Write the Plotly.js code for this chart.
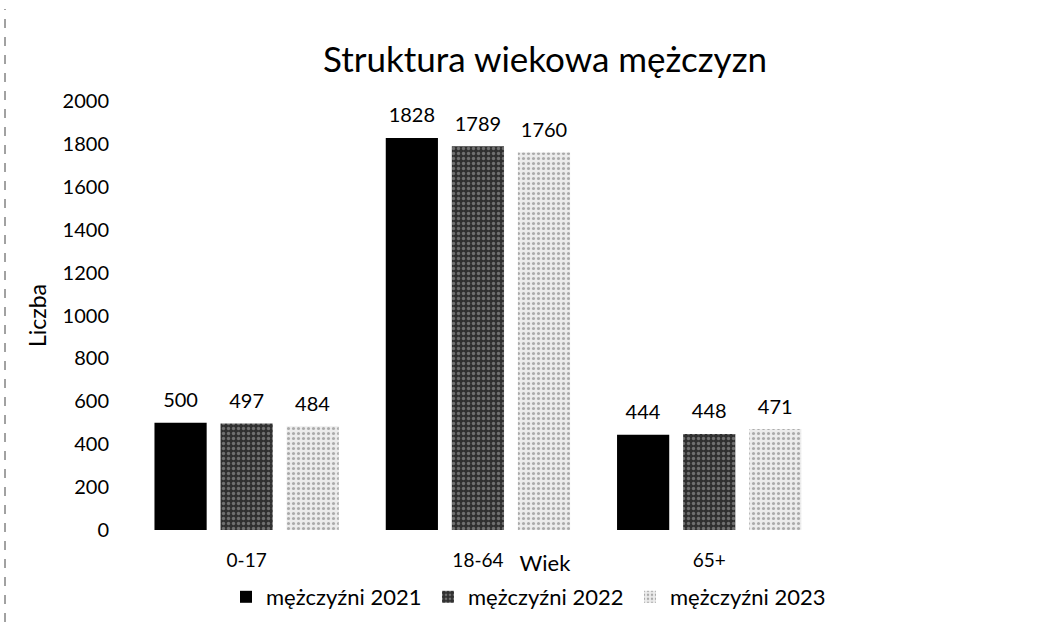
<!DOCTYPE html>
<html>
<head>
<meta charset="utf-8">
<script src="https://cdn.plot.ly/plotly-3.0.1.min.js"></script>
<style>html,body{margin:0;padding:0;background:#fff;}#chart{width:1060px;height:622px;}</style>
</head>
<body>
<div id="chart"></div>
<script>
const categories = ['0-17', '18-64', '65+'];
const series2021 = [500, 1828, 444];
const series2022 = [497, 1789, 448];
const series2023 = [484, 1760, 471];
const seriesNames = ['mężczyźni 2021', 'mężczyźni 2022', 'mężczyźni 2023'];
const yTicks = [0, 200, 400, 600, 800, 1000, 1200, 1400, 1600, 1800, 2000];

const FONT = 'Lato, "Open Sans", sans-serif';
const values = [series2021, series2022, series2023];
const markers = [
  {color: '#000000', line: {width: 0}},
  {color: '#333333', line: {width: 0}, pattern: {shape: '.', fgcolor: '#b0b0b0', bgcolor: '#303030', size: 5, solidity: 0.35, fillmode: 'overlay'}},
  {color: '#e2e2e2', line: {width: 0}, pattern: {shape: '.', fgcolor: '#6a6a6a', bgcolor: '#ececec', size: 5, solidity: 0.3, fillmode: 'overlay'}}
];

const traces = values.map((v, i) => ({
  type: 'bar',
  name: seriesNames[i],
  x: categories,
  y: v,
  marker: markers[i],
  text: v.map(String),
  texttemplate: '<span style="font-size:20px">%{text}</span><br> ',
  textposition: 'outside',
  cliponaxis: false,
  textfont: {family: FONT, size: 8, color: '#000'}
}));

const layout = {
  width: 1060, height: 622,
  paper_bgcolor: '#fff', plot_bgcolor: '#fff',
  margin: {l: 131, r: 101, t: 101, b: 92},
  font: {family: FONT, color: '#000'},
  title: {text: 'Struktura wiekowa mężczyzn', font: {family: FONT, size: 35, color: '#000'},
          x: 0.5, xref: 'paper', xanchor: 'center', y: 1 - 60/622, yref: 'container', yanchor: 'middle'},
  barmode: 'group', bargap: 0.143, bargroupgap: 0.21,
  showlegend: true,
  legend: {orientation: 'h', x: (529-131)/828, xanchor: 'center', xref: 'paper', y: 1 - 597/622, yref: 'container', yanchor: 'middle',
           font: {family: FONT, size: 22, color: '#000'}, itemwidth: 30, entrywidth: 157, entrywidthmode: 'pixels', traceorder: 'normal'},
  xaxis: {type: 'category', range: [-0.5, 3.08], showgrid: false, zeroline: false, showline: false, automargin: false,
          ticks: '', tickfont: {family: FONT, size: 19}, ticklabelstandoff: 17,
          title: {text: 'Wiek', font: {family: FONT, size: 22}, standoff: 5}},
  yaxis: {range: [0, 2000], tickvals: yTicks, showgrid: false, zeroline: false, showline: false, automargin: false,
          ticks: '', tickfont: {family: FONT, size: 20}, ticklabelstandoff: 21,
          title: {text: 'Liczba', font: {family: FONT, size: 23}, standoff: 9}},
  shapes: [{type: 'line', xref: 'paper', yref: 'paper', x0: (5-131)/828, x1: (5-131)/828,
            y0: -92/429, y1: 521/429, line: {color: '#444', width: 1, dash: 'dash'}}]
};

Plotly.newPlot('chart', traces, layout, {displayModeBar: false, staticPlot: true});
</script>
</body>
</html>
